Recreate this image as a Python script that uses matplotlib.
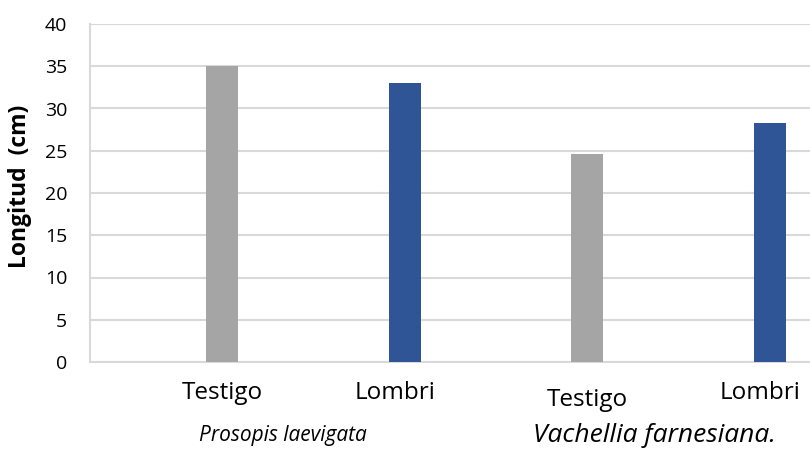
import matplotlib
matplotlib.use("Agg")
import matplotlib.pyplot as plt
import matplotlib.transforms as mtransforms

# Data
treatments = ["Testigo", "Lombri", "Testigo", "Lombri"]
species = ["Prosopis laevigata", "Vachellia farnesiana."]
lengths = [35.0, 33.0, 24.6, 28.3]
bar_colors = ["#a5a5a5", "#2f5597", "#a5a5a5", "#2f5597"]
y_ticks = [0, 5, 10, 15, 20, 25, 30, 35, 40]

plt.rcParams["font.family"] = ["Open Sans", "DejaVu Sans"]

fig = plt.figure(figsize=(8.1, 4.74), dpi=100)
ax = fig.add_axes([90 / 810, 112 / 474, 720 / 810, 338 / 474])

positions = list(range(len(lengths)))
ax.bar(positions, lengths, width=0.175, color=bar_colors, zorder=3)

ax.set_ylim(0, 40)
ax.set_xlim(-0.723, 3.219)
ax.set_yticks(y_ticks)
ax.set_yticklabels([str(t) for t in y_ticks], fontsize=14)
ax.tick_params(axis="y", length=0, pad=16.5)
ax.set_xticks([])

grid_color = "#d9d9d9"
ax.grid(axis="y", color=grid_color, linewidth=1.5, zorder=0)
for side in ["top", "right"]:
    ax.spines[side].set_visible(False)
ax.spines["left"].set_color(grid_color)
ax.spines["left"].set_linewidth(1.5)
ax.spines["bottom"].set_color(grid_color)
ax.spines["bottom"].set_linewidth(1.5)

ax.set_ylabel("Longitud  (cm)", fontsize=16.5, fontweight="bold")
ax.yaxis.label.set_verticalalignment("center")
ax.yaxis.set_label_coords(-0.097, 0.52)

# Treatment labels under each bar (pixel offsets relative to the bar centre)
trans = mtransforms.blended_transform_factory(ax.transData, fig.transFigure)
label_y = [81, 81, 74, 81]
label_dx = [0, -10, 0, -10]
for x, name, yp, dx in zip(positions, treatments, label_y, label_dx):
    ax.text(x, yp / 474, name, ha="center", va="center", fontsize=17.5,
            transform=trans + mtransforms.ScaledTranslation(dx / 100, 0, fig.dpi_scale_trans))

# Species labels below each pair
species_x = [283, 654]
species_size = [15, 19]
for xp, name, fs in zip(species_x, species, species_size):
    fig.text(xp / 810, 38 / 474, name, ha="center", va="center",
             fontsize=fs, style="italic")

fig.savefig("out.png", dpi=100)
